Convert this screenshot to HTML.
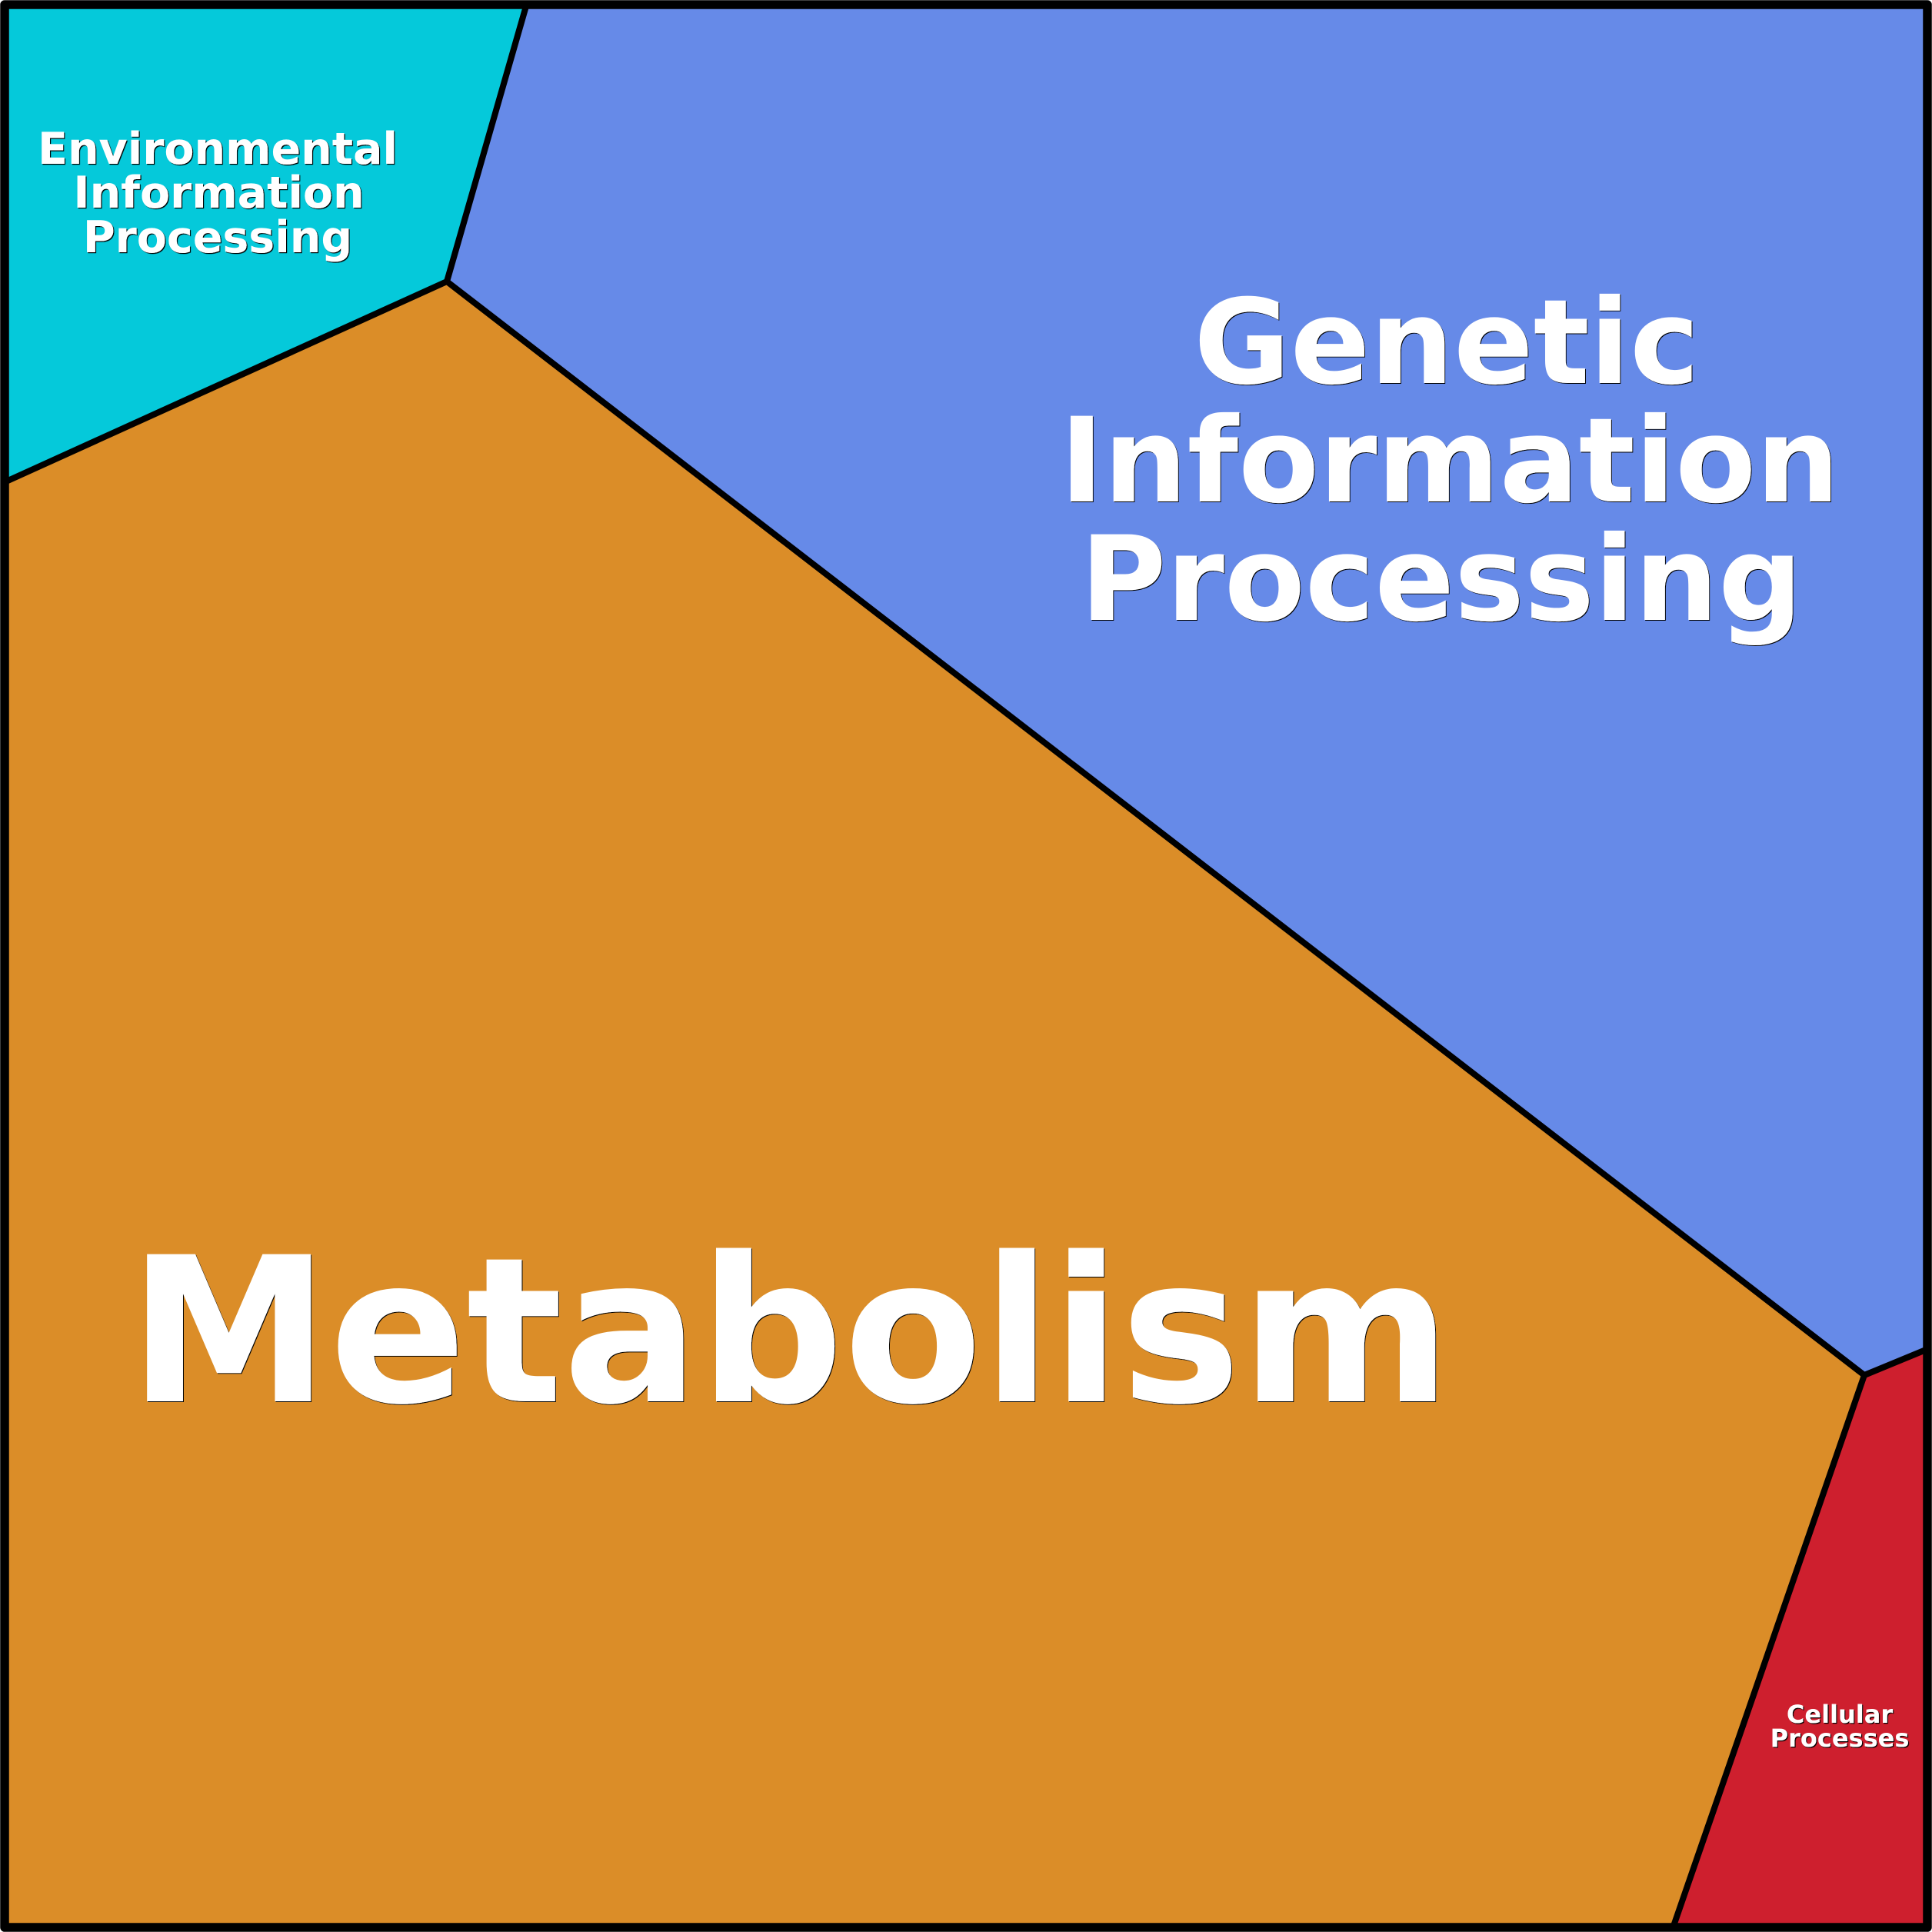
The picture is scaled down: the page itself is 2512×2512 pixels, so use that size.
<!DOCTYPE html>
<html>
<head>
<meta charset="utf-8">
<style>
html,body{margin:0;padding:0;background:#fff;width:2512px;height:2512px;overflow:hidden}
svg{display:block}
text{font-family:"DejaVu Sans",sans-serif;font-weight:700;fill:#fff;text-anchor:middle}
</style>
</head>
<body>
<svg width="2512" height="2512" viewBox="0 0 2512 2512" xmlns="http://www.w3.org/2000/svg">
<defs>
<filter id="s1" x="-5%" y="-5%" width="110%" height="110%"><feDropShadow dx="1.2" dy="1.2" stdDeviation="0.3" flood-color="#000"/></filter>
<filter id="s2" x="-5%" y="-5%" width="110%" height="110%"><feDropShadow dx="1" dy="1" stdDeviation="0.3" flood-color="#000"/></filter>
</defs>
<rect x="6" y="6" width="2500" height="2500" fill="#db8d28"/>
<polygon points="6,6 684,6 581,366 6,627" fill="#05c9da"/>
<polygon points="684,6 2506,6 2506,1755 2424,1788 581,366" fill="#668ae8"/>
<polygon points="2424,1788 2506,1755 2506,2506 2176,2506" fill="#ce1f2e"/>
<g fill="none" stroke="#000" stroke-width="8" stroke-linejoin="round">
<polyline points="684,8 581,366 8,626"/>
<polyline points="581,366 2424,1788 2504,1755"/>
<polyline points="2424,1788 2176,2504"/>
</g>
<rect x="6" y="6" width="2500" height="2500" fill="none" stroke="#000" stroke-width="11.5" stroke-linejoin="round"/>
<g filter="url(#s1)">
<text x="283" y="213" style="font-size:57px">Environmental</text>
<text x="284.5" y="270" style="font-size:57px">Information</text>
<text x="283" y="328" style="font-size:57px">Processing</text>
</g>
<g filter="url(#s1)">
<text x="2392" y="2240" style="font-size:32px">Cellular</text>
<text x="2392" y="2271" style="font-size:32px">Processes</text>
</g>
<g filter="url(#s2)">
<text x="1881" y="498" style="font-size:152.8px">Genetic</text>
<text x="1885" y="652" style="font-size:152.8px">Information</text>
<text x="1874" y="806" style="font-size:152.8px">Processing</text>
<text x="1027" y="1822" style="font-size:262.5px">Metabolism</text>
</g>
</svg>
</body>
</html>
